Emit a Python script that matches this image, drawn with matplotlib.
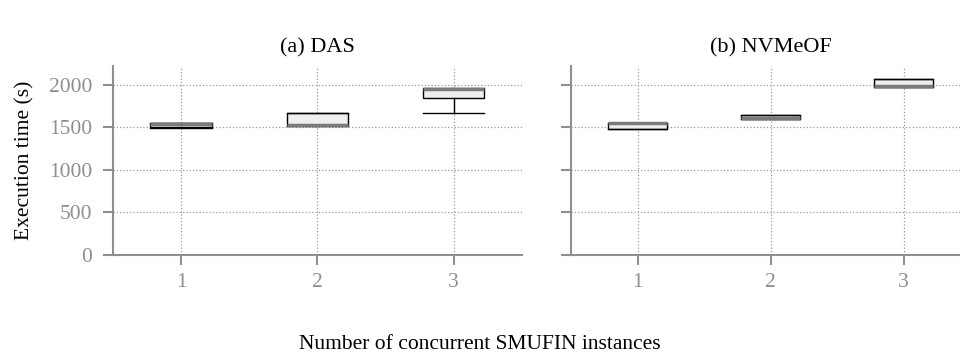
import numpy as np
import matplotlib
matplotlib.use("Agg")
import matplotlib.pyplot as plt

plt.rcParams['font.family'] = ['Liberation Serif', 'DejaVu Serif']

instances = [1, 2, 3]
titles = ["(a) DAS", "(b) NVMeOF"]

# box statistics per panel: lower whisker, q1, median, q3, upper whisker
das_lo = [1495, 1520, 1665]
das_q1 = [1500, 1525, 1850]
das_med = [1540, 1530, 1955]
das_q3 = [1550, 1665, 1955]
das_hi = [1550, 1665, 1965]

nvme_lo = [1480, 1595, 1970]
nvme_q1 = [1485, 1595, 1975]
nvme_med = [1545, 1615, 1982]
nvme_q3 = [1550, 1640, 2065]
nvme_hi = [1550, 1640, 2068]

panels = [
    (das_lo, das_q1, das_med, das_q3, das_hi),
    (nvme_lo, nvme_q1, nvme_med, nvme_q3, nvme_hi),
]

grey = "#8f8f8f"
fig = plt.figure(figsize=(9.6, 3.58), dpi=100)
ax1 = fig.add_axes([113 / 960, 1 - 255 / 358, (521.7 - 113) / 960, (255 - 66) / 358])
ax2 = fig.add_axes([571 / 960, 1 - 255 / 358, (970 - 571) / 960, (255 - 66) / 358])

for ax, title, (lo, q1, med, q3, hi) in zip([ax1, ax2], titles, panels):
    stats = []
    for i in range(len(instances)):
        stats.append(dict(whislo=lo[i], q1=q1[i], med=med[i], q3=q3[i], whishi=hi[i], fliers=[]))
    ax.bxp(stats, positions=instances, widths=0.45, capwidths=0.45, patch_artist=True,
           showfliers=False,
           boxprops=dict(facecolor="#eeeeee", edgecolor="black", linewidth=1.0),
           medianprops=dict(color="#7a7a7a", linewidth=2.5),
           whiskerprops=dict(color="black", linewidth=1.0),
           capprops=dict(color="black", linewidth=1.0))
    ax.set_xlim(0.5, 3.5)
    ax.set_ylim(0, 2220)
    ax.set_yticks([0, 500, 1000, 1500, 2000])
    ax.set_xticks(instances)
    ax.set_xticklabels([str(v) for v in instances])
    ax.grid(True, linestyle=":", color="#999999", linewidth=0.9)
    ax.set_axisbelow(True)
    for s in ["top", "right"]:
        ax.spines[s].set_visible(False)
    for s in ["left", "bottom"]:
        ax.spines[s].set_color(grey)
        ax.spines[s].set_linewidth(1.5)
    ax.tick_params(axis="both", colors=grey, labelcolor=grey, labelsize=15.5,
                   length=7, width=1.5, direction="out")
    ax.tick_params(axis="y", pad=8)
    ax.tick_params(axis="x", pad=6)
    ax.set_title(title, fontsize=16, pad=10)

ax1.set_ylabel("Execution time (s)", fontsize=15.5, labelpad=10)
ax2.tick_params(axis="y", labelleft=False)
fig.text(0.5, 0.025, "Number of concurrent SMUFIN instances", ha="center", fontsize=15.5)

fig.savefig("out.png", dpi=100)
